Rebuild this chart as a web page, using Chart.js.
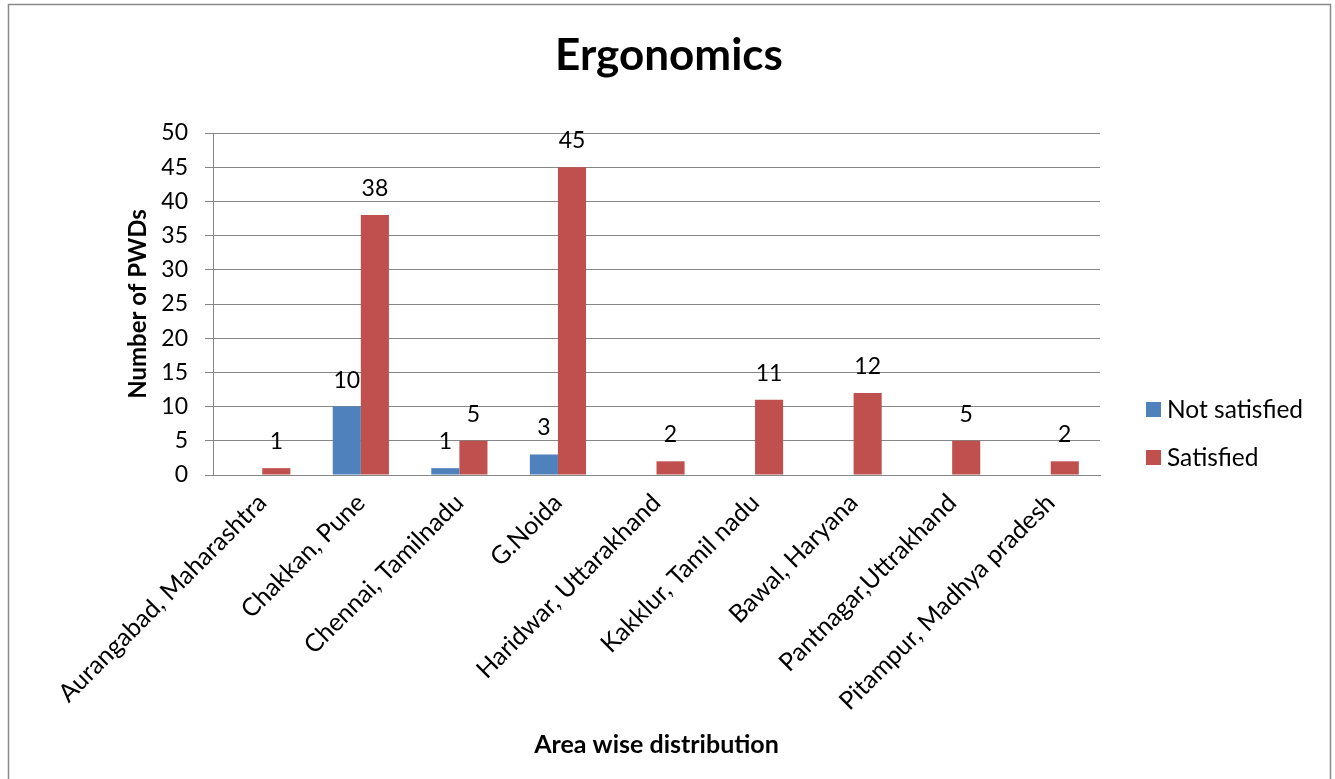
<!DOCTYPE html>
<html>
<head>
<meta charset="utf-8">
<script src="https://cdn.jsdelivr.net/npm/chart.js@4.4.1/dist/chart.umd.min.js"></script>
<style>
  html, body { margin: 0; padding: 0; background: #ffffff; }
  #wrap { width: 1335px; height: 779px; position: relative; }
</style>
</head>
<body>
<div id="wrap"><canvas id="c" width="1335" height="779"></canvas></div>
<script>
const chartTitle = "Ergonomics";
const categories = [
  "Aurangabad, Maharashtra",
  "Chakkan, Pune",
  "Chennai, Tamilnadu",
  "G.Noida",
  "Haridwar, Uttarakhand",
  "Kakklur, Tamil nadu",
  "Bawal, Haryana",
  "Pantnagar,Uttrakhand",
  "Pitampur, Madhya pradesh"
];
const notSatisfied = [0, 10, 1, 3, 0, 0, 0, 0, 0];
const satisfied = [1, 38, 5, 45, 2, 11, 12, 5, 2];
const yTitle = "Number of PWDs";
const xTitle = "Area wise distribution";

const FONT = "Lato, 'Open Sans', sans-serif";
const GRID = "#868686";

const decorPlugin = {
  id: 'decor',
  beforeDraw(chart) {
    const ctx = chart.ctx;
    ctx.save();
    ctx.fillStyle = '#ffffff';
    ctx.fillRect(0, 0, chart.width, chart.height);
    ctx.strokeStyle = '#8a8a8a';
    ctx.lineWidth = 1.5;
    ctx.beginPath();
    ctx.moveTo(8.5, chart.height + 2);
    ctx.lineTo(8.5, 4.5);
    ctx.lineTo(1330.5, 4.5);
    ctx.lineTo(1330.5, chart.height + 2);
    ctx.stroke();
    ctx.restore();
  },
  afterDatasetsDraw(chart) {
    const ctx = chart.ctx;
    ctx.save();
    ctx.font = "23px " + FONT;
    ctx.fillStyle = '#000000';
    ctx.textAlign = 'center';
    ctx.textBaseline = 'alphabetic';
    chart.data.datasets.forEach((ds, di) => {
      const meta = chart.getDatasetMeta(di);
      meta.data.forEach((bar, i) => {
        const v = ds.data[i];
        if (v) ctx.fillText(String(v), bar.x, bar.y - 19);
      });
    });
    // title
    ctx.font = "bold 44px " + FONT;
    ctx.textBaseline = 'middle';
    ctx.fillText(chartTitle, 669, 56);
    // legend
    ctx.font = "24.5px " + FONT;
    ctx.textAlign = 'left';
    chart.data.datasets.forEach((ds, di) => {
      const cy = 409 + di * 48;
      ctx.fillStyle = ds.backgroundColor;
      ctx.fillRect(1146, cy - 7, 15, 15);
      ctx.fillStyle = '#000000';
      ctx.fillText(ds.label, 1167, cy + 1);
    });
    ctx.restore();
  }
};

new Chart(document.getElementById('c'), {
  type: 'bar',
  data: {
    labels: categories,
    datasets: [
      { label: 'Not satisfied', data: notSatisfied, backgroundColor: '#4F81BD', categoryPercentage: 0.57, barPercentage: 1.0 },
      { label: 'Satisfied', data: satisfied, backgroundColor: '#C0504D', categoryPercentage: 0.57, barPercentage: 1.0 }
    ]
  },
  options: {
    responsive: false,
    animation: false,
    layout: { padding: { left: 120, right: 235, top: 133, bottom: 16 } },
    plugins: {
      legend: { display: false },
      title: { display: false },
      tooltip: { enabled: false }
    },
    scales: {
      x: {
        grid: { display: false },
        border: { display: true, color: GRID, width: 1 },
        ticks: { color: '#000', font: { size: 25, family: FONT }, minRotation: 45, maxRotation: 45, autoSkip: false, padding: 5 },
        title: { display: true, text: xTitle, color: '#000', font: { size: 25, weight: 'bold', family: FONT }, padding: { top: 4, bottom: 3 } },
        afterFit(scale) { scale.height = 288; }
      },
      y: {
        min: 0, max: 50,
        grid: { color: GRID, lineWidth: 1, drawTicks: true, tickLength: 8, tickColor: GRID },
        border: { display: true, color: GRID, width: 1 },
        ticks: { stepSize: 5, color: '#000', font: { size: 23, family: FONT }, padding: 17 },
        title: { display: true, text: yTitle, color: '#000', font: { size: 24, weight: 'bold', family: FONT }, padding: { top: 4, bottom: 4 } },
        afterFit(scale) { scale.width = 93; }
      }
    }
  },
  plugins: [decorPlugin]
});
</script>
</body>
</html>
